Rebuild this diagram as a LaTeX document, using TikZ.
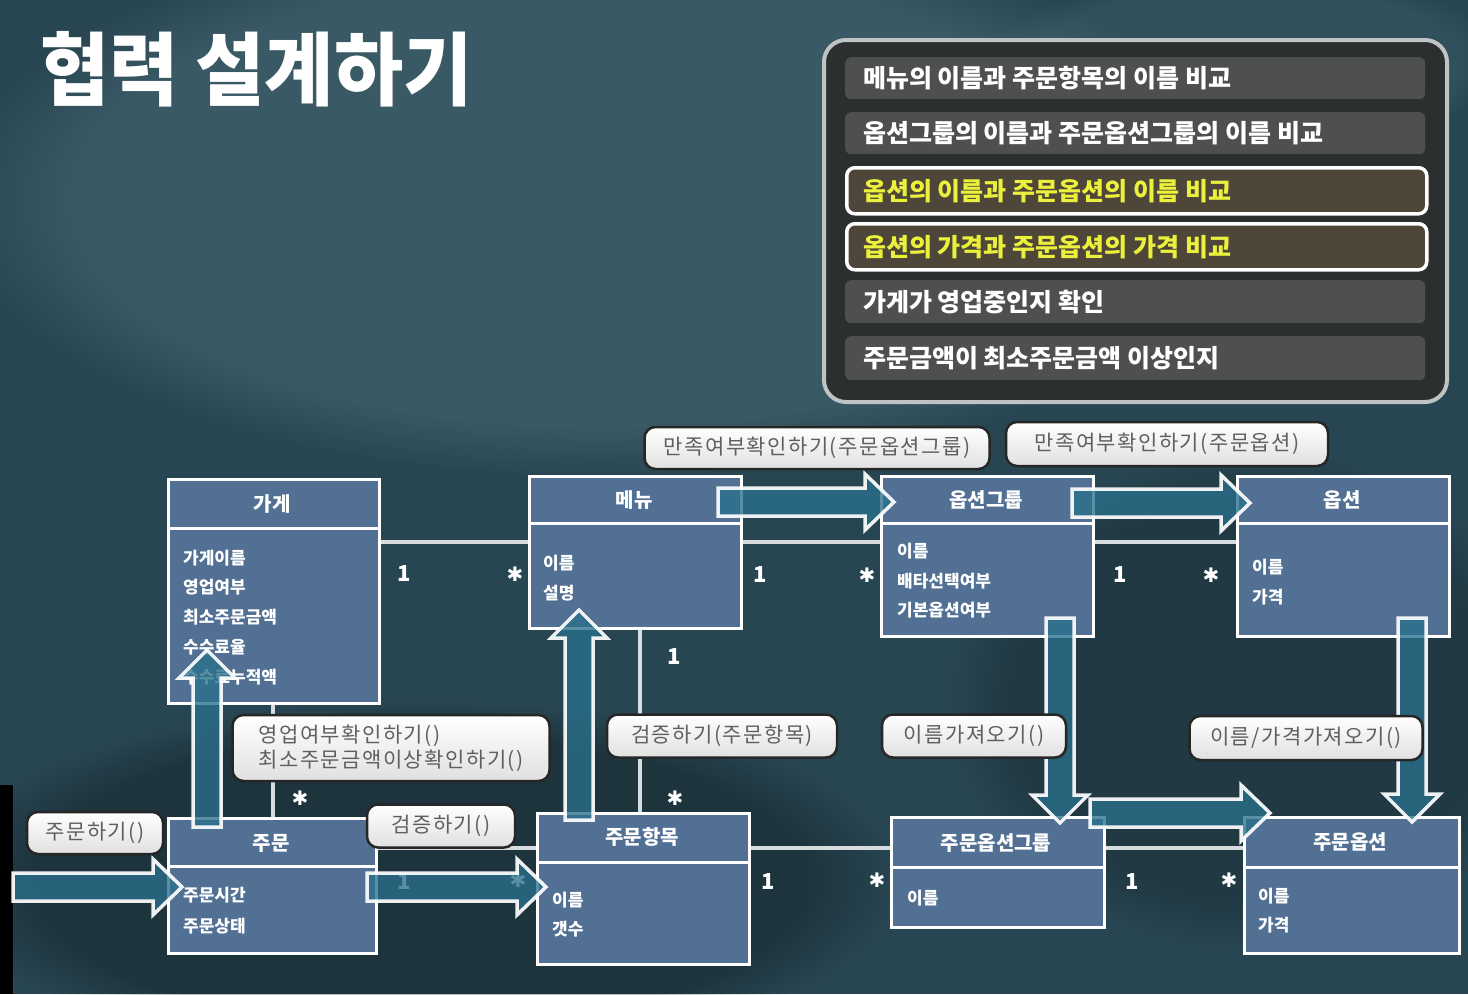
\documentclass[tikz,border=0pt]{standalone}
\usepackage{graphicx}
\usepackage{fontspec}
\setmainfont{Noto Sans CJK KR}
\newfontfamily\djv{DejaVu Sans}
\newfontfamily\msgfont[LetterSpace=7]{Noto Sans CJK KR}
\usetikzlibrary{calc,fadings}
\definecolor{bgbase}{RGB}{40,70,82}
\definecolor{bglight}{RGB}{95,130,140}
\definecolor{clsfill}{RGB}{82,112,148}
\definecolor{arrfill}{RGB}{42,112,140}
\definecolor{panelfill}{RGB}{44,47,48}
\definecolor{panelline}{RGB}{190,195,195}
\definecolor{rowfill}{RGB}{78,79,79}
\definecolor{hlfill}{RGB}{78,70,56}
\definecolor{hltext}{RGB}{235,240,60}
\definecolor{msgtext}{RGB}{95,95,95}
\definecolor{linecol}{RGB}{215,220,222}

\newcommand{\blkright}[2]{%
  \draw[blockarrow] ($(#1)+(0,-14)$) -- ($(#2)+(-29,-14)$) -- ($(#2)+(-29,-28)$) -- (#2)
    -- ($(#2)+(-29,28)$) -- ($(#2)+(-29,14)$) -- ($(#1)+(0,14)$) -- cycle;}
\newcommand{\blkup}[2]{%
  \draw[blockarrow] ($(#1)+(-14,0)$) -- ($(#2)+(-14,28)$) -- ($(#2)+(-28,28)$) -- (#2)
    -- ($(#2)+(28,28)$) -- ($(#2)+(14,28)$) -- ($(#1)+(14,0)$) -- cycle;}
\newcommand{\blkdown}[2]{%
  \draw[blockarrow] ($(#1)+(-14,0)$) -- ($(#2)+(-14,-28)$) -- ($(#2)+(-28,-28)$) -- (#2)
    -- ($(#2)+(28,-28)$) -- ($(#2)+(14,-28)$) -- ($(#1)+(14,0)$) -- cycle;}

\begin{document}
\begin{tikzpicture}[x=1pt,y=-1pt,
  cls/.style={draw=white, line width=3pt, fill=clsfill, inner sep=0pt, anchor=north west},
  sepline/.style={draw=white, line width=3pt},
  clstitle/.style={font=\bfseries\fontsize{20}{24}\selectfont, text=white, inner sep=0pt},
  attr/.style={font=\bfseries\fontsize{17}{20}\selectfont, text=white, anchor=west, inner sep=0pt},
  mult/.style={font=\bfseries\fontsize{22}{24}\selectfont, text=white, inner sep=0pt},
  multstar/.style={font=\djv\bfseries\fontsize{20}{22}\selectfont, text=white, inner sep=0pt},
  assoc/.style={draw=linecol, line width=3.5pt},
  blockarrow/.style={draw=white, line width=3.5pt, fill=arrfill, fill opacity=0.78, draw opacity=0.92, line join=miter},
  msg/.style={draw=black!85, line width=2.5pt, rounded corners=11pt, top color=white, bottom color=black!12,
    text=msgtext, font=\msgfont\fontsize{21}{25}\selectfont, inner sep=0pt},
  panelrow/.style={fill=rowfill, rounded corners=6pt, anchor=north west, inner sep=0pt, minimum width=580pt},
  hlrow/.style={draw=white, line width=3.5pt, fill=hlfill, rounded corners=8pt, anchor=north west, inner sep=0pt, minimum width=580pt},
  rowtext/.style={font=\bfseries\fontsize{25}{28}\selectfont, text=white, anchor=west, inner sep=0pt},
]
\useasboundingbox (0,0) rectangle (1468,994);
% background
\fill[bgbase] (0,0) rectangle (1468,994);
\fill[bglight, opacity=0.32, path fading=circle with fuzzy edge 20 percent] (600,200) ellipse (650 and 280);
\fill[bglight, opacity=0.18, path fading=circle with fuzzy edge 20 percent] (1250,60) ellipse (260 and 90);
\fill[black, opacity=0.25, path fading=circle with fuzzy edge 20 percent] (420,880) ellipse (480 and 180);
\fill[black, opacity=0.18, path fading=circle with fuzzy edge 20 percent] (1250,700) ellipse (300 and 250);
\fill[black] (0,785) rectangle (13,994);

% class boxes
\node[cls, minimum width=211pt, minimum height=224pt] (gage) at (167,478) {};
\node[cls, minimum width=212pt, minimum height=152pt] (menu) at (528,475) {};
\node[cls, minimum width=212pt, minimum height=160pt] (optg) at (880,475) {};
\node[cls, minimum width=212pt, minimum height=160pt] (opt) at (1236,475) {};
\node[cls, minimum width=208pt, minimum height=135pt] (order) at (167,817) {};
\node[cls, minimum width=212pt, minimum height=151pt] (item) at (536,812) {};
\node[cls, minimum width=213pt, minimum height=110pt] (oog) at (890,816) {};
\node[cls, minimum width=215pt, minimum height=136pt] (oo) at (1243,816) {};

% header separators
\draw[sepline] ($(gage.north west)+(0,50)$) -- ($(gage.north east)+(0,50)$);
\draw[sepline] ($(menu.north west)+(0,48)$) -- ($(menu.north east)+(0,48)$);
\draw[sepline] ($(optg.north west)+(0,48)$) -- ($(optg.north east)+(0,48)$);
\draw[sepline] ($(opt.north west)+(0,48)$) -- ($(opt.north east)+(0,48)$);
\draw[sepline] ($(order.north west)+(0,49)$) -- ($(order.north east)+(0,49)$);
\draw[sepline] ($(item.north west)+(0,50)$) -- ($(item.north east)+(0,50)$);
\draw[sepline] ($(oog.north west)+(0,51)$) -- ($(oog.north east)+(0,51)$);
\draw[sepline] ($(oo.north west)+(0,51)$) -- ($(oo.north east)+(0,51)$);

% association lines
\coordinate (ytop) at (0,542);
\coordinate (ybot) at (0,848);
\coordinate (xgo) at (273,0);
\coordinate (xmi) at (640,0);
\draw[assoc] (gage.east |- ytop) -- (menu.west |- ytop);
\draw[assoc] (menu.east |- ytop) -- (optg.west |- ytop);
\draw[assoc] (optg.east |- ytop) -- (opt.west |- ytop);
\draw[assoc] (xgo |- gage.south) -- (xgo |- order.north);
\draw[assoc] (xmi |- menu.south) -- (xmi |- item.north);
\draw[assoc] (order.east |- ybot) -- (item.west |- ybot);
\draw[assoc] (item.east |- ybot) -- (oog.west |- ybot);
\draw[assoc] (oog.east |- ybot) -- (oo.west |- ybot);

% class titles and attributes
\node[clstitle] (gaget) at (272,504) {가게};
\node[attr] (ga1) at (183,558) {가게이름};
\node[attr] (ga2) at (183,587) {영업여부};
\node[attr] (ga3) at (183,617) {최소주문금액};
\node[attr] (ga4) at (183,647) {수수료율};
\node[attr] (ga5) at (183,677) {수수료누적액};

\node[clstitle] (menut) at (634,500) {메뉴};
\node[attr] (me1) at (543,563) {이름};
\node[attr] (me2) at (543,593) {설명};

\node[clstitle] (optgt) at (986,500) {옵션그룹};
\node[attr] (og1) at (897,551) {이름};
\node[attr] (og2) at (897,581) {배타선택여부};
\node[attr] (og3) at (897,610) {기본옵션여부};

\node[clstitle] (optt) at (1342,500) {옵션};
\node[attr] (op1) at (1252,567) {이름};
\node[attr] (op2) at (1252,597) {가격};

\node[clstitle] (ordert) at (271,843) {주문};
\node[attr] (or1) at (183,895) {주문시간};
\node[attr] (or2) at (183,926) {주문상태};

\node[clstitle] (itemt) at (642,837) {주문항목};
\node[attr] (it1) at (552,900) {이름};
\node[attr] (it2) at (552,929) {갯수};

\node[clstitle] (oogt) at (996,843) {주문옵션그룹};
\node[attr] (oa1) at (907,898) {이름};

\node[clstitle] (oot) at (1350,842) {주문옵션};
\node[attr] (ob1) at (1258,896) {이름};
\node[attr] (ob2) at (1258,925) {가격};

% multiplicities
\node[mult] (n1) at (404,574) {1};
\node[multstar] (s1) at (515,574) {✱};
\node[mult] (n2) at (760,575) {1};
\node[multstar] (s2) at (867,575) {✱};
\node[mult] (n3) at (1120,575) {1};
\node[multstar] (s3) at (1211,575) {✱};
\node[multstar] (s4) at (300,798) {✱};
\node[mult] (n5) at (674,657) {1};
\node[multstar] (s5) at (675,798) {✱};
\node[mult, text=white!70] (n6) at (404,882) {1};
\node[multstar, text=white!70] (s6) at (518,880) {✱};
\node[mult, text=white!75] (n7) at (768,882) {1};
\node[multstar] (s7) at (877,880) {✱};
\node[mult] (n8) at (1132,882) {1};
\node[multstar] (s8) at (1229,880) {✱};

% block arrows
\coordinate (a1s) at (13,887);   \coordinate (a1e) at (182,887);
\coordinate (a2s) at (367,887);  \coordinate (a2e) at (546,887);
\coordinate (a3s) at (207,827);  \coordinate (a3e) at (207,650);
\coordinate (a4s) at (579,820);  \coordinate (a4e) at (579,610);
\coordinate (a5s) at (718,502);  \coordinate (a5e) at (894,502);
\coordinate (a6s) at (1072,503); \coordinate (a6e) at (1250,503);
\coordinate (a7s) at (1060,618); \coordinate (a7e) at (1060,823);
\coordinate (a8s) at (1412,618); \coordinate (a8e) at (1412,822);
\coordinate (a9s) at (1090,813); \coordinate (a9e) at (1270,813);
\blkright{a1s}{a1e}
\blkright{a2s}{a2e}
\blkup{a3s}{a3e}
\blkup{a4s}{a4e}
\blkright{a5s}{a5e}
\blkright{a6s}{a6e}
\blkdown{a7s}{a7e}
\blkdown{a8s}{a8e}
\blkright{a9s}{a9e}

% message labels
\node[msg, minimum width=345pt, minimum height=42pt] (m1) at (817,448) {만족여부확인하기(주문옵션그룹)};
\node[msg, minimum width=322pt, minimum height=44pt] (m2) at (1167,444) {만족여부확인하기(주문옵션)};
\node[msg, minimum width=317pt, minimum height=66pt, align=left] (m3) at (391,748) {영업여부확인하기()\\최소주문금액이상확인하기()};
\node[msg, minimum width=230pt, minimum height=43pt] (m4) at (722,736) {검증하기(주문항목)};
\node[msg, minimum width=184pt, minimum height=43pt] (m5) at (974,736) {이름가져오기()};
\node[msg, minimum width=233pt, minimum height=44pt] (m6) at (1306,738) {이름/가격가져오기()};
\node[msg, minimum width=136pt, minimum height=42pt] (m7) at (95,833) {주문하기()};
\node[msg, minimum width=148pt, minimum height=43pt] (m8) at (441,826) {검증하기()};

% checklist panel
\node[draw=panelline, line width=4pt, fill=panelfill, rounded corners=22pt, anchor=north west,
  minimum width=623pt, minimum height=362pt, inner sep=0pt] (panel) at (822,38) {};
\node[panelrow, minimum height=42pt] (r1) at (845,57) {};
\node[panelrow, minimum height=42pt] (r2) at (845,112) {};
\node[hlrow, minimum height=46pt] (r3) at (845,166) {};
\node[hlrow, minimum height=46pt] (r4) at (845,222) {};
\node[panelrow, minimum height=43pt] (r5) at (845,280) {};
\node[panelrow, minimum height=44pt] (r6) at (845,336) {};
\node[rowtext] (r1t) at ([xshift=18pt]r1.west) {메뉴의 이름과 주문항목의 이름 비교};
\node[rowtext] (r2t) at ([xshift=18pt]r2.west) {옵션그룹의 이름과 주문옵션그룹의 이름 비교};
\node[rowtext, text=hltext] (r3t) at ([xshift=18pt]r3.west) {옵션의 이름과 주문옵션의 이름 비교};
\node[rowtext, text=hltext] (r4t) at ([xshift=18pt]r4.west) {옵션의 가격과 주문옵션의 가격 비교};
\node[rowtext] (r5t) at ([xshift=18pt]r5.west) {가게가 영업중인지 확인};
\node[rowtext] (r6t) at ([xshift=18pt]r6.west) {주문금액이 최소주문금액 이상인지};

% title
\node[anchor=west, inner sep=0pt, text=white] (title) at (40,69)
  {\scalebox{0.94}[1]{\bfseries\fontsize{80}{90}\selectfont 협력 설계하기}};
\end{tikzpicture}
\end{document}
